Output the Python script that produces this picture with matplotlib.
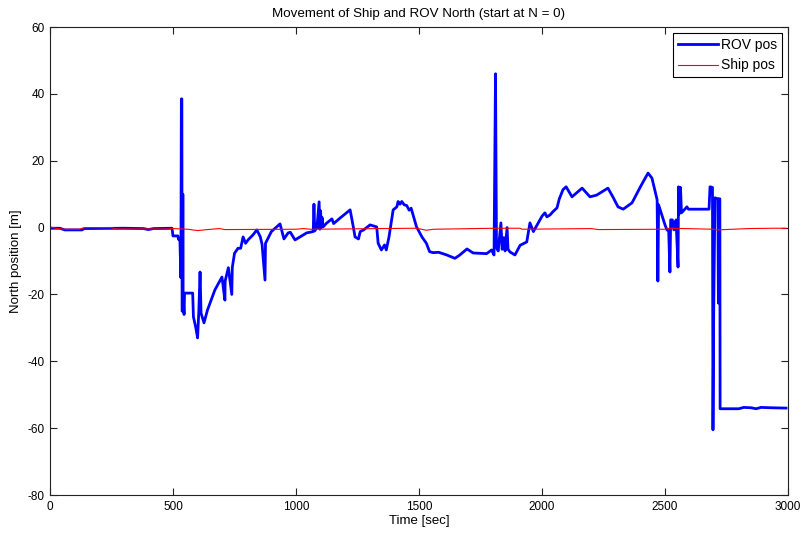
import matplotlib
matplotlib.use("Agg")
import matplotlib.pyplot as plt
from matplotlib import font_manager

# ROV north position (time [s], north [m])
rov_t = [0, 40, 60, 130, 140, 300, 380, 400, 420, 488, 496, 500, 520, 522, 528,
         530, 532, 534, 536, 537, 539, 540, 541, 545, 547, 580, 583, 592, 600, 605,
         610, 614, 626, 640, 670, 699, 711, 712, 725, 739, 741, 750, 764, 775, 785,
         795, 805, 825, 841, 855, 862, 874, 876, 900, 935, 951, 968, 977, 996, 1016,
         1043, 1070, 1073, 1076, 1085, 1094, 1097, 1100, 1103, 1106, 1110, 1124, 1146, 1153, 1180,
         1220, 1233, 1240, 1254, 1261, 1275, 1301, 1328, 1334, 1347, 1360, 1367, 1378, 1395, 1410,
         1415, 1423, 1430, 1440, 1450, 1460, 1468, 1476, 1490, 1512, 1530, 1543, 1557, 1580, 1613,
         1646, 1666, 1695, 1720, 1775, 1795, 1805, 1811, 1815, 1822, 1833, 1838, 1845, 1850, 1858,
         1862, 1870, 1890, 1911, 1938, 1951, 1965, 1978, 1992, 2000, 2012, 2020, 2033, 2045, 2061,
         2070, 2085, 2098, 2122, 2163, 2195, 2222, 2268, 2288, 2309, 2330, 2366, 2400, 2431, 2447,
         2468, 2471, 2474, 2500, 2508, 2515, 2520, 2523, 2530, 2536, 2545, 2553, 2555, 2557, 2559,
         2561, 2563, 2567, 2589, 2595, 2679, 2683, 2693, 2695, 2698, 2703, 2715, 2717, 2719, 2723,
         2724, 2800, 2820, 2850, 2870, 2890, 2930, 2992]
rov_n = [-0.2, -0.2, -0.7, -0.7, -0.3, -0.2, -0.3, -0.6, -0.3, -0.2, -0.2, -2.5, -2.5, -3.5, -3.5,
         -8.8, -15, 38.5, 38.5, -25, -25, 10, -20, -26, -19.6, -19.6, -26.7, -29.7, -33, -25,
         -13.3, -25.6, -28.5, -24.7, -18.7, -14.8, -21.7, -16, -12, -20, -12, -7.7, -6.2, -6.2, -2.8,
         -4.7, -3.7, -2.2, -0.7, -2.8, -5, -15.7, -4.7, -1.2, 1.1, -3.4, -1.6, -1.4, -3.7, -2.8,
         -1.6, -1.2, 7, -1, 0, 7.7, -0.5, 5, 0, 3, 0.2, 1.3, 2.6, 1.2, 2.9,
         5.3, 0.2, -2.8, -3.4, -1.2, -0.7, 0.8, 0.2, -4.7, -6.7, -5.2, -6.7, -2.8, 5.3, 6.2,
         7.8, 7.0, 7.8, 6.8, 6.6, 5.2, 5.8, 3.8, 0.2, -2.8, -4.7, -7.2, -7.5, -7.4, -8.2,
         -9.2, -8.2, -6.4, -7.6, -7.8, -6.7, -8.2, 46, -6, -7, 1.4, -6.5, -3, -7, 0,
         -6.5, -7.3, -8.2, -5.3, -4.3, 1.4, -1.2, 0.5, 2.3, 3.4, 4.4, 3.2, 3.8, 4.8, 5.9,
         8.5, 11.3, 12.2, 9.2, 11.8, 9.2, 9.7, 11.8, 9.2, 6.2, 5.5, 7.4, 12.2, 16.3, 14.8,
         8.3, -16, 6.8, 0.8, -0.7, -1, -13.3, 2.3, 2.3, -0.7, 2.3, -11.8, 12.2, 4, 12,
         5, 12, 4.4, 6.2, 5.5, 5.5, 12.2, 12, -60.5, -25, 8.9, 8.6, -22.6, 8.6, 8.6,
         -54.2, -54.2, -53.8, -53.9, -54.2, -53.8, -53.9, -54]

# ship north position
ship_t = [0, 30, 60, 120, 140, 250, 270, 480, 500, 560, 600, 640, 690, 710, 1000, 1030,
          1060, 1490, 1530, 1560, 1810, 1910, 1920, 2200, 2230, 2500, 2520, 2700, 2710, 2840,
          2940, 2992]
ship_n = [0.2, -0.3, -0.5, -0.5, 0, 0, -0.4, -0.4, -0.3, -0.5, -0.9, -0.6, -0.3, -0.6, -0.5, -0.3,
          -0.5, -0.2, -0.8, -0.5, -0.2, -0.2, -0.5, -0.3, -0.6, -0.5, -0.2, -0.5, -0.7, -0.3,
          -0.2, -0.2]

names = {f.name for f in font_manager.fontManager.ttflist}
fam = "Liberation Sans Narrow" if "Liberation Sans Narrow" in names else "Liberation Sans"
plt.rcParams["font.family"] = [fam, "DejaVu Sans"]
plt.rcParams["font.size"] = 8.5
plt.rcParams["axes.unicode_minus"] = False

fig = plt.figure(figsize=(8.04, 5.40), dpi=100)
ax = fig.add_axes([50 / 804, 1 - 495 / 540, 738 / 804, 468 / 540])

ax.plot(rov_t, rov_n, color="#0000ff", linewidth=2.0, label="ROV pos")
ax.plot(ship_t, ship_n, color="#ff0000", linewidth=0.8, label="Ship pos")

ax.set_xlim(0, 3000)
ax.set_ylim(-80, 60)
ax.set_xticks(range(0, 3001, 500))
ax.set_yticks(range(-80, 61, 20))
ax.tick_params(direction="in", length=5, width=0.8, top=True, right=True, colors="#222222",
               labelcolor="black", pad=4)
for s in ax.spines.values():
    s.set_color("#222222")
    s.set_linewidth(0.8)

ax.set_xlabel("Time [sec]", labelpad=2, fontsize=9.5)
ax.set_ylabel("North position [m]", labelpad=4, fontsize=9.5)
ax.set_title("Movement of Ship and ROV North (start at N = 0)", pad=7, fontsize=9.6)

leg = ax.legend(loc="upper right", fancybox=False, edgecolor="black", framealpha=1,
                borderaxespad=0.45, handlelength=2.9, handletextpad=0.2, labelspacing=0.45,
                fontsize=10, borderpad=0.35)
leg.get_frame().set_linewidth(0.8)

fig.savefig("out.png", dpi=100, facecolor="white")
